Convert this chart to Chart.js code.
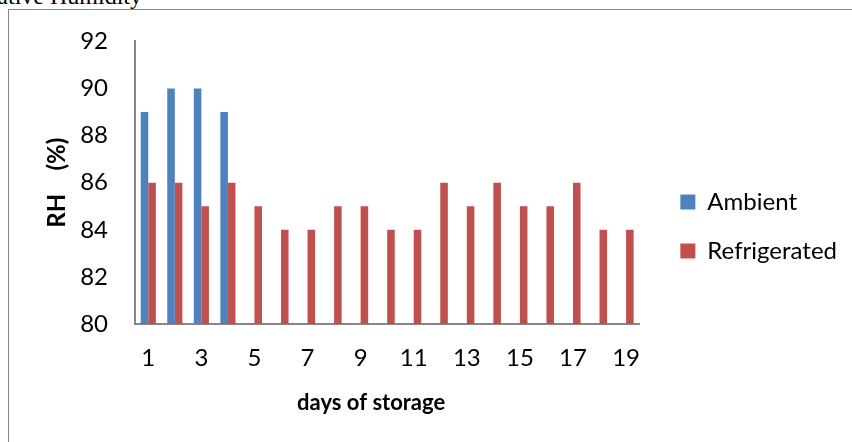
<!DOCTYPE html>
<html lang="en">
<head>
  <meta charset="UTF-8">
  <title>RH chart</title>
  <script src="https://cdn.jsdelivr.net/npm/chart.js"></script>
  <style>
    html, body { margin: 0; padding: 0; background: #fff; overflow: hidden; }
    .caption {
      position: absolute; left: -36px; top: -17px;
      font-family: "Liberation Serif", serif; font-size: 24px; color: #000;
      white-space: nowrap;
    }
    .frame {
      position: absolute; left: 8px; top: 9px; width: 900px; height: 500px;
      border: 1.5px solid #868686;
    }
    .graph { position: absolute; left: 0; top: 0; width: 852px; height: 442px; }
  </style>
</head>
<body>
<div class="caption">Relative Humidity</div>
<div class="frame"></div>
<div class="graph">
  <canvas id="myChart" width="852" height="442"></canvas>
</div>
<script>
  // dados
  const dias = ['1','2','3','4','5','6','7','8','9','10','11','12','13','14','15','16','17','18','19'];
  const ambiente = [89, 90, 90, 89, null, null, null, null, null, null, null, null, null, null, null, null, null, null, null];
  const refrigerado = [86, 86, 85, 86, 85, 84, 84, 85, 85, 84, 84, 86, 85, 86, 85, 85, 86, 84, 84];
  const yTicks = [80, 82, 84, 86, 88, 90, 92];

  const fonte = 'Lato, "Open Sans", sans-serif';
  Chart.defaults.font.family = fonte;
  Chart.defaults.color = '#000';

  const dados = {
    labels: dias,
    datasets: [{
      label: 'Ambient',
      data: ambiente,
      backgroundColor: '#4F81BD',
      borderWidth: 0
    }, {
      label: 'Refrigerated',
      data: refrigerado,
      backgroundColor: '#C0504D',
      borderWidth: 0
    }]
  };

  const config = {
    type: 'bar',
    data: dados,
    options: {
      responsive: false,
      animation: false,
      categoryPercentage: 0.57,
      barPercentage: 1,
      layout: { padding: { top: 36, bottom: 25, left: 0, right: 5 } },
      plugins: {
        tooltip: { enabled: false },
        legend: {
          position: 'right',
          align: 'center',
          maxWidth: 200,
          labels: {
            boxWidth: 15,
            boxHeight: 15,
            padding: 25,
            font: { size: 24 },
            color: '#000'
          }
        }
      },
      scales: {
        x: {
          grid: { display: false, drawTicks: false },
          border: { color: '#868686', width: 2 },
          ticks: {
            autoSkip: false,
            maxRotation: 0,
            padding: 20,
            font: { size: 24 },
            callback: function (v, i) { return i % 2 === 0 ? dias[i] : ''; }
          },
          title: {
            display: true,
            text: 'days of storage      ',
            font: { size: 22, weight: 'bold' },
            padding: { top: 4, bottom: 1 }
          },
          afterFit: function (s) { s.height = 93; }
        },
        y: {
          min: 80,
          max: 92,
          grid: { display: false, drawTicks: false },
          border: { color: '#868686', width: 2 },
          afterBuildTicks: function (s) { s.ticks = yTicks.map(v => ({ value: v })); },
          ticks: { padding: 27, font: { size: 24 } },
          title: {
            display: true,
            text: 'RH    (%)',
            font: { size: 24, weight: 'bold' },
            padding: { top: 43, bottom: 0 }
          },
          afterFit: function (s) { s.width = 135; }
        },
        folga: {
          type: 'linear',
          position: 'right',
          display: true,
          grid: { display: false, drawTicks: false },
          border: { display: false },
          ticks: { display: false },
          afterFit: function (s) { s.width = 16; }
        }
      }
    }
  };

  const myChart = new Chart(document.getElementById('myChart'), config);
</script>
</body>
</html>
